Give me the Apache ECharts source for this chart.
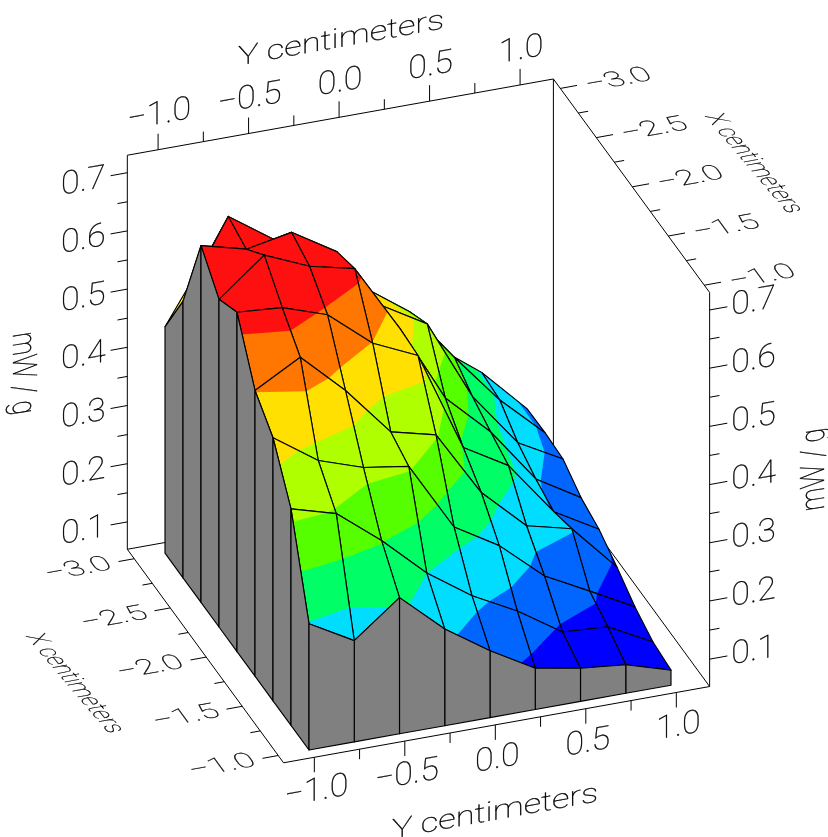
<!DOCTYPE html>
<html><head><meta charset="utf-8">
<style>html,body{margin:0;padding:0;background:#fff}#c{width:828px;height:837px}</style>
<script src="https://cdn.jsdelivr.net/npm/echarts@6/dist/echarts.min.js"></script>
</head><body><div id="c"></div>
<script>
// ---- data: sampled positions along each horizontal axis
const yCm = [-1,-0.75,-0.5,-0.25,0,0.25,0.5,0.75,1];
const xCm = [-1,-1.25,-1.5,-1.75,-2,-2.25,-2.5,-2.75,-3];
// ---- data: mW/g along Y, one list per X position
const atX100 = [.270,.227,.287,.219,.168,.124,.110,.102,.079];
const atX125 = [.425,.403,.343,.273,.220,.180,.130,.125,.085];
const atX150 = [.505,.452,.426,.414,.296,.250,.184,.144,.103];
const atX175 = [.544,.587,.516,.431,.412,.299,.228,.209,.129];
const atX200 = [.636,.630,.604,.541,.506,.334,.289,.196,.152];
const atX225 = [.616,.678,.645,.627,.510,.377,.305,.210,.164];
const atX250 = [.666,.646,.661,.614,.507,.462,.323,.230,.188];
const atX275 = [.528,.660,.607,.575,.496,.441,.348,.261,.191];
const atX300 = [.442,.561,.526,.499,.433,.393,.324,.266,.190];
const surface = [atX100,atX125,atX150,atX175,atX200,atX225,atX250,atX275,atX300];
// ---- colour bands
const levels = [.07,.1375,.205,.2725,.34,.4075,.475,.5425,.61];
const bandColors = ['#0000ff','#0066ff','#00ddff','#00ff66','#55ff00','#afff00','#ffe000','#ff7700','#ff1010'];
// ---- tick labels
const yTicks = [-1,-0.5,0,0.5,1];
const yTicksMinor = [-0.75,-0.25,0.25,0.75];
const xTicks = [-3,-2.5,-2,-1.5,-1];
const xTicksMinor = [-2.75,-2.25,-1.75,-1.25];
const zTicks = [.1,.2,.3,.4,.5,.6,.7];
const zTicksMinor = [.15,.25,.35,.45,.55,.65];
const yTitle = 'Y centimeters', xTitle = 'X centimeters', zTitle = 'mW / g';
// ---- axis box extents
const Xfront=-0.926, Xback=-3.096, Yleft=-1.17, Yright=1.184, Zlow=.053, Ztop=.73;

// ---- fixed view projection of the 3D box
function project(X,Y,Z){
  return [309+(Y+1)*181+(-1-X)*(-72), 750+(Y+1)*(-32.4)+(-1-X)*(-98.4)-(Z-Zlow)*582];
}
const fmt = v => (v<0?'\u2212':'')+Math.abs(v).toFixed(1);
const U=[.984,-.178];              // Y direction on screen
const XD=[.587,.81];               // X direction on screen

function clipAbove(poly,L){
  const out=[];
  for(let k=0;k<poly.length;k++){
    const a=poly[k], b=poly[(k+1)%poly.length];
    const ia=a[2]>=L, ib=b[2]>=L;
    if(ia) out.push(a);
    if(ia!==ib){
      const t=(L-a[2])/(b[2]-a[2]);
      out.push([a[0]+(b[0]-a[0])*t,a[1]+(b[1]-a[1])*t,L]);
    }
  }
  return out;
}

// text through a general affine frame, built from rotation*scale*rotation
function frameText(api,text,pos,u,v,font,z2){
  const m00=u[0],m10=u[1],m01=v[0],m11=v[1];
  const E=(m00+m11)/2,F=(m00-m11)/2,G=(m10+m01)/2,H=(m10-m01)/2;
  const Q=Math.hypot(E,H),R=Math.hypot(F,G);
  const a1=Math.atan2(G,F),a2=Math.atan2(H,E);
  const theta=(a2-a1)/2,phi=(a2+a1)/2;
  const c=api.coord([pos[0]+v[0]*3,pos[1]+v[1]*3]);
  return {type:'group',x:c[0],y:c[1],rotation:-phi,scaleX:Q+R,scaleY:Q-R,
    children:[{type:'text',rotation:-theta,z2:z2||5,silent:true,
      style:{text,font,fill:'#000',stroke:'#000',lineWidth:.3,align:'center',verticalAlign:'middle',textAlign:'center',textVerticalAlign:'middle'}}]};
}

const LINE={stroke:'#000',lineWidth:1,fill:null};
const MESH={stroke:'#000',lineWidth:1.15,fill:null,lineJoin:'round'};
function seg(api,pts,style,z2){
  return {type:'polyline',silent:true,z2:z2||1,shape:{points:pts.map(p=>api.coord(p))},style};
}

// ---- walls and floor
const boxEdges=[
 [[Xback,Yleft,Zlow],[Xback,Yleft,Ztop]],
 [[Xback,Yleft,Ztop],[Xback,Yright,Ztop]],
 [[Xback,Yright,Ztop],[Xback,Yright,Zlow]],
 [[Xback,Yright,Ztop],[Xfront,Yright,Ztop]],
 [[Xfront,Yright,Ztop],[Xfront,Yright,Zlow]],
 [[Xback,Yleft,Zlow],[Xback,Yright,Zlow]],
 [[Xback,Yleft,Zlow],[Xfront,Yleft,Zlow]],
 [[Xfront,Yleft,Zlow],[Xfront,Yright,Zlow]],
 [[Xback,Yright,Zlow],[Xfront,Yright,Zlow]]
];
// ---- tick segments: start (axis point) + screen direction and length
function addTicks(list,vals,toPoint,dir,len){vals.forEach(v=>list.push({p:project(...toPoint(v)),dir,len}));}
const ticks=[];
const DOWN=[0,1],UP=[0,-1],LEFT=[-U[0],-U[1]],RIGHT=U;
addTicks(ticks,yTicks,v=>[Xfront,v,Zlow],DOWN,15);
addTicks(ticks,yTicksMinor,v=>[Xfront,v,Zlow],DOWN,10);
addTicks(ticks,yTicks,v=>[Xback,v,Ztop],UP,16);
addTicks(ticks,yTicksMinor,v=>[Xback,v,Ztop],UP,10);
addTicks(ticks,xTicks,v=>[v,Yleft,Zlow],LEFT,16);
addTicks(ticks,xTicksMinor,v=>[v,Yleft,Zlow],LEFT,10);
addTicks(ticks,xTicks,v=>[v,Yright,Ztop],RIGHT,17);
addTicks(ticks,xTicksMinor,v=>[v,Yright,Ztop],RIGHT,10);
addTicks(ticks,zTicks,v=>[Xback,Yleft,v],LEFT,17);
addTicks(ticks,zTicksMinor,v=>[Xback,Yleft,v],LEFT,10);
addTicks(ticks,zTicks,v=>[Xfront,Yright,v],RIGHT,18);
addTicks(ticks,zTicksMinor,v=>[Xfront,Yright,v],RIGHT,10);

// ---- labels
const F_DIGIT='100 32px Roboto', F_TITLE='100 27px Roboto';
const labels=[];
const uD=[U[0]*1.08,U[1]*1.08], vFlat=[0,1];
const vX=[XD[0]*.75,XD[1]*.75];
yTicks.forEach(v=>{const p=project(Xfront,v,Zlow);labels.push({t:fmt(v),p:[p[0]+2,p[1]+32],u:uD,v:vFlat,f:F_DIGIT});});
yTicks.forEach(v=>{const p=project(Xback,v,Ztop);labels.push({t:fmt(v),p:[p[0]+1,p[1]-37],u:uD,v:vFlat,f:F_DIGIT});});
xTicks.forEach(v=>{const p=project(v,Yleft,Zlow);labels.push({t:fmt(v),p:[p[0]-57,p[1]+9],u:uD,v:vX,f:F_DIGIT});});
xTicks.forEach(v=>{const p=project(v,Yright,Ztop);labels.push({t:fmt(v),p:[p[0]+57,p[1]-10],u:uD,v:vX,f:F_DIGIT});});
zTicks.forEach(v=>{const p=project(Xback,Yleft,v);labels.push({t:v.toFixed(1),p:[p[0]-44,p[1]+7],u:uD,v:vFlat,f:F_DIGIT});});
zTicks.forEach(v=>{const p=project(Xfront,Yright,v);labels.push({t:v.toFixed(1),p:[p[0]+44,p[1]-10],u:uD,v:vFlat,f:F_DIGIT});});
const uT=[U[0]*1.3,U[1]*1.3];
labels.push({t:yTitle,p:[495,810],u:uT,v:vFlat,f:F_TITLE});
labels.push({t:yTitle,p:[341,37],u:uT,v:vFlat,f:F_TITLE});
const uXT=[.65*.8,.76*.8], vXT=[-.98,.18];
labels.push({t:xTitle,p:[77,683],u:uXT,v:vXT,f:F_TITLE});
labels.push({t:xTitle,p:[756,163],u:uXT,v:vXT,f:F_TITLE});
labels.push({t:zTitle,p:[25,373],u:[0,.95],v:[-1.25,.2],f:F_TITLE});
labels.push({t:zTitle,p:[812,470],u:[0,-.95],v:[1.25,-.2],f:F_TITLE});

// ---- surface cells, back to front
const cells=[];
for(let j=xCm.length-2;j>=0;j--)for(let i=yCm.length-2;i>=0;i--)cells.push([i,j]);
const node=(i,j)=>[xCm[j],yCm[i],surface[j][i]];

function renderCell(params,api){
  const [i,j]=cells[params.dataIndex];
  const quad=[node(i,j),node(i+1,j),node(i+1,j+1),node(i,j+1)];
  const base=(params.dataIndex+1)*12, kids=[];
  const toPts=q=>q.map(n=>api.coord(project(n[0],n[1],n[2])));
  kids.push({type:'polygon',silent:true,z2:base,shape:{points:toPts(quad)},style:{fill:bandColors[0]}});
  for(let k=1;k<bandColors.length;k++){
    const q=clipAbove(quad,levels[k]);
    if(q.length>=3)kids.push({type:'polygon',silent:true,z2:base+k,shape:{points:toPts(q)},style:{fill:bandColors[k]}});
  }
  kids.push({type:'polygon',silent:true,z2:base+10,shape:{points:toPts(quad)},style:MESH});
  return {type:'group',children:kids};
}

// ---- grey side skirts: left side (Y=-1) then front side (X=-1)
const skirts=[];
for(let j=xCm.length-2;j>=0;j--)skirts.push([0,j,0,j+1]);
for(let i=yCm.length-2;i>=0;i--)skirts.push([i,0,i+1,0]);
function renderSkirt(params,api){
  const [i1,j1,i2,j2]=skirts[params.dataIndex];
  const a=node(i1,j1),b=node(i2,j2);
  const pts=[[a[0],a[1],a[2]],[b[0],b[1],b[2]],[b[0],b[1],Zlow],[a[0],a[1],Zlow]].map(n=>api.coord(project(...n)));
  const base=2000+params.dataIndex*3;
  return {type:'group',children:[
    {type:'polygon',silent:true,z2:base,shape:{points:pts},style:{fill:'#808080'}},
    {type:'polygon',silent:true,z2:base+1,shape:{points:pts},style:MESH}
  ]};
}

const chart=echarts.init(document.getElementById('c'),null,{renderer:'canvas'});
const cs={coordinateSystem:'cartesian2d',clip:false,silent:true,animation:false};
chart.setOption({
  animation:false,backgroundColor:'#fff',
  grid:{left:0,right:0,top:0,bottom:0},
  xAxis:{type:'value',min:0,max:828,show:false},
  yAxis:{type:'value',min:0,max:837,inverse:true,show:false},
  series:[
    Object.assign({},cs,{type:'custom',name:'box',data:boxEdges.map((e,k)=>k),
      renderItem:(p,api)=>seg(api,boxEdges[p.dataIndex].map(n=>project(...n)),LINE)}),
    Object.assign({},cs,{type:'custom',name:'ticks',data:ticks.map((e,k)=>k),
      renderItem:(p,api)=>{const t=ticks[p.dataIndex];
        return seg(api,[t.p,[t.p[0]+t.dir[0]*t.len,t.p[1]+t.dir[1]*t.len]],LINE);}}),
    Object.assign({},cs,{type:'custom',name:'labels',data:labels.map((e,k)=>k),
      renderItem:(p,api)=>{const l=labels[p.dataIndex];return frameText(api,l.t,l.p,l.u,l.v,l.f);}}),
    Object.assign({},cs,{type:'custom',name:'surface',data:cells.map((e,k)=>k),renderItem:renderCell}),
    Object.assign({},cs,{type:'custom',name:'sides',data:skirts.map((e,k)=>k),renderItem:renderSkirt})
  ]
});
</script></body></html>
